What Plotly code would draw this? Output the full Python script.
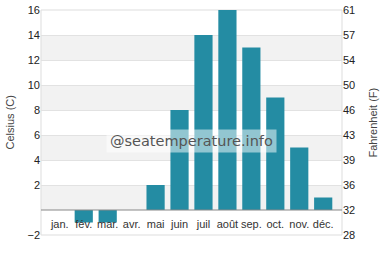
import plotly.graph_objects as go

months = ["jan.", "fév.", "mar.", "avr.", "mai", "juin", "juil", "août", "sep.", "oct.", "nov.", "déc."]
celsius = [0, -1, -1, 0, 2, 8, 14, 16, 13, 9, 5, 1]
c_ticks = [16, 14, 12, 10, 8, 6, 4, 2, -2]
f_tickvals = [16, 14, 12, 10, 8, 6, 4, 2, 0, -2]
f_ticktext = ["61", "57", "54", "50", "46", "43", "39", "36", "32", "28"]
bands = [(12, 14), (8, 10), (4, 6), (0, 2)]

ymin, ymax = -2, 16
bar_color = "#248ca3"

fig = go.Figure()
fig.add_trace(go.Bar(x=months, y=celsius, marker_color=bar_color, marker_line_width=0,
                     hoverinfo="skip"))
fig.add_trace(go.Scatter(x=months, y=celsius, yaxis="y2", mode="markers",
                         marker_opacity=0, showlegend=False, hoverinfo="skip"))

shapes = []
for lo, hi in bands:
    shapes.append(dict(type="rect", xref="paper", yref="y", x0=0, x1=1, y0=lo, y1=hi,
                       fillcolor="#f2f2f2", line_width=0, layer="below"))
# plot border
shapes.append(dict(type="rect", xref="paper", yref="paper", x0=0, x1=1, y0=0, y1=1,
                   line=dict(color="#dddddd", width=1), layer="below"))
# zero line
shapes.append(dict(type="line", xref="paper", yref="y", x0=0, x1=1, y0=0, y1=0,
                   line=dict(color="#888888", width=1), layer="above"))

zero_pos = (0 - ymin) / (ymax - ymin)
title_font = dict(family="Liberation Sans, Arial", size=11, color="#444444")

fig.update_layout(
    width=382, height=280,
    margin=dict(l=41, r=40, t=10, b=45),
    paper_bgcolor="white", plot_bgcolor="white",
    showlegend=False,
    bargap=0.24,
    shapes=shapes,
    font=dict(family="Liberation Sans, Arial", size=11, color="#222222"),
    xaxis=dict(anchor="free", position=zero_pos, showline=False, ticks="",
               showgrid=False, tickfont=dict(size=11, color="#333333"),
               ticklabelstandoff=6, automargin=False, fixedrange=True),
    yaxis=dict(range=[ymin, ymax], tickvals=c_ticks, showgrid=True, gridcolor="#e2e2e2",
               zeroline=False, showline=False, ticks="", automargin=False, fixedrange=True),
    yaxis2=dict(range=[ymin, ymax], overlaying="y", side="right", tickvals=f_tickvals,
                ticktext=f_ticktext, showgrid=False, zeroline=False, showline=False, ticks="",
                automargin=False, fixedrange=True),
    annotations=[
        dict(text="@seatemperature.info", xref="paper", yref="paper",
             x=0.5, y=0.42, showarrow=False,
             font=dict(family="DejaVu Sans", size=14.5, color="#555555"),
             bgcolor="rgba(255,255,255,0.5)", borderpad=3),
        dict(text="Celsius (C)", xref="paper", yref="paper", x=-0.103, y=0.5,
             textangle=-90, showarrow=False, font=title_font,
             xanchor="center", yanchor="middle"),
        dict(text="Fahrenheit (F)", xref="paper", yref="paper", x=1.0997, y=0.5,
             textangle=-90, showarrow=False, font=title_font,
             xanchor="center", yanchor="middle"),
    ],
)

fig.write_html("out.html", config={"displayModeBar": False},
               post_script="document.body.style.margin='0';document.body.style.overflow='hidden';")
